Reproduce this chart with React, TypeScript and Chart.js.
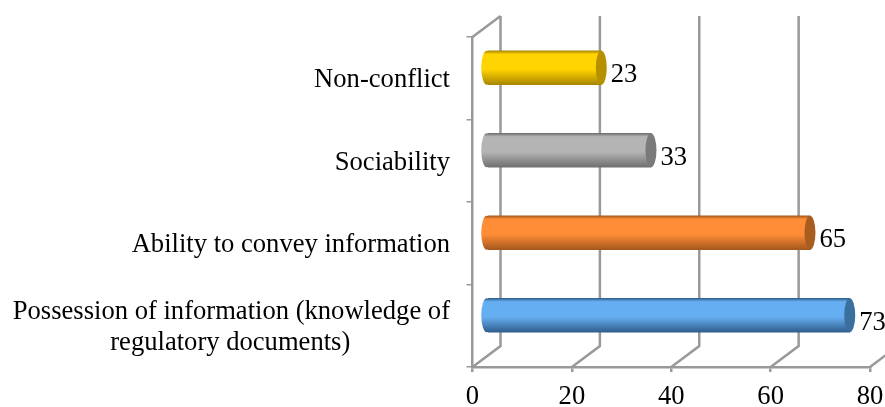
import React, { useEffect, useRef } from "react";
import { Chart, registerables } from "chart.js";

Chart.register(...registerables);

const categories = [
  ["Non-conflict"],
  ["Sociability"],
  ["Ability to convey information"],
  ["Possession of information (knowledge of", "regulatory documents)"],
];
const values = [23, 33, 65, 73];
const midColors = ["#FFD400", "#B4B4B4", "#FF8C36", "#66AEF2"];
const edgeColors = ["#A98500", "#6F6F6F", "#A4571C", "#2F5E8C"];
const capColors = ["#B79000", "#7A7A7A", "#A95C20", "#3B6F9E"];
const xTicks = [0, 20, 40, 60, 80];

const FONT = "'Liberation Serif'";
const FONT_SIZE = 26.6;
const GRID = "#999999";
const LINE_W = 2.5;
const DEPTH_X = 28;
const DEPTH_Y = 21;
const BAR_DX = 14.5;
const BAR_DY = -10.5;
const RX = 5.5;
const BAR_H = 34;
const Y_LABEL_SHIFT = 2;

function padLine(ctx: CanvasRenderingContext2D, line: string, widest: string) {
  ctx.save();
  ctx.font = `${FONT_SIZE}px ${FONT}`;
  const gap = (ctx.measureText(widest).width - ctx.measureText(line).width) / 2;
  const sp = ctx.measureText("\u00A0").width;
  ctx.restore();
  return line + "\u00A0".repeat(Math.round(gap / sp));
}

function fillFor(ctx: CanvasRenderingContext2D, y: number, i: number) {
  const g = ctx.createLinearGradient(0, y - BAR_H / 2, 0, y + BAR_H / 2);
  g.addColorStop(0, edgeColors[i]);
  g.addColorStop(0.1, midColors[i]);
  g.addColorStop(0.55, midColors[i]);
  g.addColorStop(1, edgeColors[i]);
  return g;
}

const cylinder3d = {
  id: "cylinder3d",
  beforeDraw(chart: any) {
    if (chart.$labelsShifted) return;
    chart.$labelsShifted = true;
    chart.scales.y.getLabelItems().forEach((item: any) => {
      item.options.translation[1] += Y_LABEL_SHIFT;
    });
  },
  beforeDatasetsDraw(chart: any) {
    const { ctx, chartArea, scales } = chart;
    ctx.save();
    ctx.strokeStyle = GRID;
    ctx.lineWidth = LINE_W;
    xTicks.forEach((t) => {
      const x = scales.x.getPixelForValue(t);
      ctx.beginPath();
      ctx.moveTo(x, chartArea.bottom);
      ctx.lineTo(x + DEPTH_X, chartArea.bottom - DEPTH_Y);
      ctx.lineTo(x + DEPTH_X, chartArea.top - DEPTH_Y);
      ctx.stroke();
    });
    const x0 = scales.x.getPixelForValue(0);
    ctx.beginPath();
    ctx.moveTo(x0, chartArea.top);
    ctx.lineTo(x0 + DEPTH_X, chartArea.top - DEPTH_Y);
    ctx.stroke();
    ctx.restore();
  },
  beforeDatasetDraw(chart: any, args: any) {
    const { ctx } = chart;
    ctx.save();
    ctx.translate(BAR_DX, BAR_DY);
    args.meta.data.forEach((el: any, i: number) => {
      ctx.fillStyle = fillFor(ctx, el.y, i);
      ctx.beginPath();
      ctx.ellipse(el.base - 1.5, el.y, RX, BAR_H / 2, 0, 0, Math.PI * 2);
      ctx.fill();
    });
  },
  afterDatasetDraw(chart: any, args: any) {
    const { ctx } = chart;
    args.meta.data.forEach((el: any, i: number) => {
      ctx.fillStyle = capColors[i];
      ctx.beginPath();
      ctx.ellipse(el.x, el.y, RX, BAR_H / 2, 0, 0, Math.PI * 2);
      ctx.fill();
    });
    ctx.restore();
    ctx.save();
    ctx.fillStyle = "#000";
    ctx.font = `${FONT_SIZE}px ${FONT}`;
    ctx.textAlign = "left";
    ctx.textBaseline = "middle";
    args.meta.data.forEach((el: any, i: number) => {
      ctx.fillText(String(values[i]), el.x + BAR_DX + RX + 4, el.y + BAR_DY + 7.5);
    });
    ctx.restore();
  },
};

export default function App() {
  const ref = useRef<HTMLCanvasElement>(null);
  useEffect(() => {
    document.body.style.margin = "0";
    const canvas = ref.current!;
    const ctx2d = canvas.getContext("2d")!;
    const widest = categories[3][0];
    const chart = new Chart(canvas, {
      type: "bar",
      data: {
        labels: categories as any,
        datasets: [
          {
            data: values,
            barThickness: BAR_H,
            clip: false as any,
            backgroundColor: (c: any) => {
              const i = c.dataIndex;
              const y = i === undefined ? NaN : c.chart.scales.y?.getPixelForValue(i);
              return Number.isFinite(y) ? fillFor(c.chart.ctx, y, i) : midColors[i ?? 0];
            },
          },
        ],
      },
      plugins: [cylinder3d],
      options: {
        indexAxis: "y",
        responsive: false,
        animation: false,
        layout: { padding: { top: 37, right: 15, left: 0, bottom: 0 } },
        plugins: { legend: { display: false }, tooltip: { enabled: false } },
        scales: {
          x: {
            min: 0,
            max: 80,
            afterFit: (s: any) => {
              s.height = 40;
              s.paddingLeft = 0;
              s.paddingRight = 0;
            },
            afterBuildTicks: (s: any) => {
              s.ticks = xTicks.map((value) => ({ value }));
            },
            grid: { drawOnChartArea: false, color: GRID, lineWidth: LINE_W, tickLength: 5 },
            border: { color: GRID, width: LINE_W },
            ticks: {
              maxRotation: 0,
              padding: 9,
              color: "#000",
              font: { family: FONT, size: FONT_SIZE },
            },
          },
          y: {
            afterFit: (s: any) => {
              s.width = 472.5;
              s.paddingTop = 0;
              s.paddingBottom = 0;
            },
            grid: { drawOnChartArea: false, color: GRID, lineWidth: 1.5, tickLength: 6, offset: true },
            border: { color: GRID, width: LINE_W },
            ticks: {
              padding: 16.5,
              color: "#000",
              font: { family: FONT, size: FONT_SIZE, lineHeight: 1.17 },
              callback: (_v: any, i: number) =>
                categories[i].map((l, k) => (k > 0 ? padLine(ctx2d, l, widest) : l)),
            },
          },
        },
      },
    } as any);
    return () => chart.destroy();
  }, []);
  return <canvas ref={ref} width={885} height={407} style={{ display: "block" }} />;
}
